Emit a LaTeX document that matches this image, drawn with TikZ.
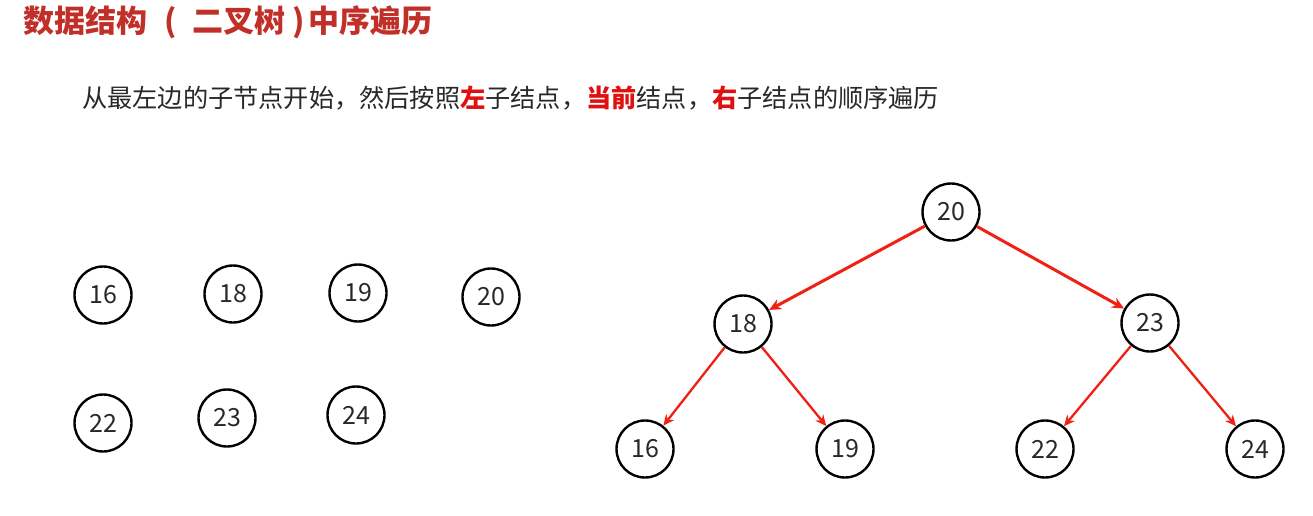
\documentclass[tikz,border=0pt]{standalone}
\usepackage{fontspec}
\setmainfont{Noto Sans CJK SC}
\usetikzlibrary{arrows.meta}
\definecolor{titlered}{RGB}{192,48,40}
\definecolor{hired}{RGB}{224,16,16}
\definecolor{edgered}{RGB}{240,32,20}
\definecolor{txt}{RGB}{40,40,40}
\tikzset{
  tnode/.style={circle,draw=black,line width=2.4pt,minimum size=57pt,inner sep=0pt,
    font=\fontsize{25}{25}\selectfont,text=txt},
  edge/.style={draw=edgered,line width=3pt,-{Stealth[length=12pt,width=11pt]}},
  edgethin/.style={draw=edgered,line width=2.3pt,-{Stealth[length=11pt,width=10pt]}}
}
\begin{document}
\begin{tikzpicture}[x=1pt,y=-1pt]
\useasboundingbox (0,0) rectangle (1313,516);
\node[anchor=west,inner sep=0pt,text=titlered,font=\fontsize{31}{31}\selectfont\bfseries] (title) at (23,22) {数据结构\kern17pt(\kern16pt二叉树\kern7pt)\kern4pt中序遍历};
\node[anchor=west,inner sep=0pt,text=txt,font=\fontsize{25.2}{25.2}\selectfont] (sub) at (82,98)
  {从最左边的子节点开始，然后按照\textcolor{hired}{\bfseries 左}子结点，\textcolor{hired}{\bfseries 当前}结点，\textcolor{hired}{\bfseries 右}子结点的顺序遍历};
% left set
\node[tnode] (l16) at (103,295) {16};
\node[tnode] (l18) at (233,294) {18};
\node[tnode] (l19) at (358,293) {19};
\node[tnode] (l20) at (491,297) {20};
\node[tnode] (l22) at (103,423) {22};
\node[tnode] (l23) at (227,418) {23};
\node[tnode] (l24) at (356,415) {24};
% tree
\node[tnode] (t20) at (951,212) {20};
\node[tnode] (t18) at (743,324) {18};
\node[tnode] (t23) at (1150,323) {23};
\node[tnode] (t16) at (645,449) {16};
\node[tnode] (t19) at (845,449) {19};
\node[tnode] (t22) at (1045,449) {22};
\node[tnode] (t24) at (1255,449) {24};
\draw[edge] (t20) -- (t18);
\draw[edge] (t20) -- (t23);
\draw[edgethin] (t18) -- (t16);
\draw[edgethin] (t18) -- (t19);
\draw[edgethin] (t23) -- (t22);
\draw[edgethin] (t23) -- (t24);
\end{tikzpicture}
\end{document}
